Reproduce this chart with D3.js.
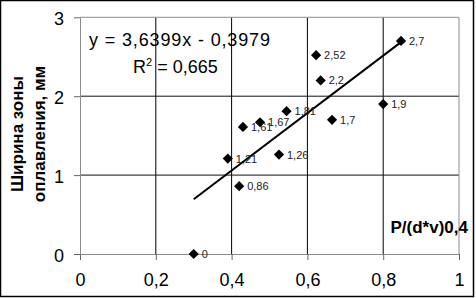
<!DOCTYPE html>
<html>
<head>
<meta charset="utf-8">
<script src="https://cdn.jsdelivr.net/npm/d3@7"></script>
<style>
  body { margin: 0; background: #fff; }
  svg text { font-family: "Liberation Sans", Arial, sans-serif; }
</style>
</head>
<body>
<div id="chart"></div>
<script>
const width = 476,
    height = 298;

// points
const xValues = [0.3, 0.39, 0.42, 0.43, 0.475, 0.525, 0.545, 0.623, 0.635, 0.665, 0.8, 0.847];
const yValues = [0, 1.21, 0.86, 1.61, 1.67, 1.26, 1.81, 2.52, 2.2, 1.7, 1.9, 2.7];
const pointLabels = ["0", "1,21", "0,86", "1,61", "1,67", "1,26", "1,81", "2,52", "2,2", "1,7", "1,9", "2,7"];

// linear trend from the chart
const slope = 3.6399,
    intercept = -0.3979;

const xTicks = [0, 0.2, 0.4, 0.6, 0.8, 1];
const yTicks = [0, 1, 2, 3];
const fmt = (d) => String(d).replace(".", ",");

const svg = d3
    .select("#chart")
    .append("svg")
    .attr("width", width)
    .attr("height", height);

// outer frame
svg.append("rect")
    .attr("x", 0.5)
    .attr("y", 0.5)
    .attr("width", 473)
    .attr("height", 296)
    .attr("fill", "#fff")
    .attr("stroke", "#000")
    .attr("stroke-width", 1.5);

const xScale = d3.scaleLinear().domain([0, 1]).range([80, 459]);
const yScale = d3.scaleLinear().domain([0, 3]).range([254, 17.3]);

// gridlines
svg.append("g")
    .selectAll("line")
    .data(xTicks.slice(1, -1))
    .join("line")
    .attr("x1", (d) => xScale(d))
    .attr("x2", (d) => xScale(d))
    .attr("y1", yScale(0))
    .attr("y2", yScale(3))
    .attr("stroke", "#000");

svg.append("g")
    .selectAll("line")
    .data(yTicks.slice(1, -1))
    .join("line")
    .attr("x1", xScale(0))
    .attr("x2", xScale(1))
    .attr("y1", (d) => yScale(d))
    .attr("y2", (d) => yScale(d))
    .attr("stroke", "#111");

// plot border top/right
svg.append("path")
    .attr("d", `M${xScale(0)},${yScale(3)}H${xScale(1)}V${yScale(0)}`)
    .attr("fill", "none")
    .attr("stroke", "#8c8c8c");

// axes
const xAxis = svg
    .append("g")
    .attr("transform", `translate(0, ${yScale(0)})`)
    .call(
        d3.axisBottom(xScale)
            .tickValues(xTicks)
            .tickSize(6)
            .tickSizeOuter(0)
            .tickPadding(13)
            .tickFormat(fmt)
    );

const yAxis = svg
    .append("g")
    .attr("transform", `translate(${xScale(0)}, 0)`)
    .call(
        d3.axisLeft(yScale)
            .tickValues(yTicks)
            .tickSize(6)
            .tickSizeOuter(0)
            .tickPadding(10)
            .tickFormat(fmt)
    );

[xAxis, yAxis].forEach((g) => {
    g.select(".domain").attr("stroke", "#8c8c8c");
    g.selectAll(".tick line").attr("stroke", "#666");
    g.selectAll(".tick text")
        .attr("fill", "#000")
        .style("font-size", "18px");
});
yAxis.selectAll(".tick text").attr("dy", "0.4em");

// trend line
const xMin = d3.min(xValues),
    xMax = d3.max(xValues);
svg.append("line")
    .attr("x1", xScale(xMin))
    .attr("y1", yScale(slope * xMin + intercept))
    .attr("x2", xScale(xMax))
    .attr("y2", yScale(slope * xMax + intercept))
    .attr("stroke", "#000")
    .attr("stroke-width", 2);

// points
const points = xValues.map((x, i) => ({ x, y: yValues[i], label: pointLabels[i] }));

svg.append("g")
    .selectAll("path")
    .data(points)
    .join("path")
    .attr("d", d3.symbol(d3.symbolSquare, 52))
    .attr("transform", (d) => `translate(${xScale(d.x)},${yScale(d.y)}) rotate(45)`)
    .attr("fill", "#000");

svg.append("g")
    .selectAll("text")
    .data(points)
    .join("text")
    .attr("x", (d) => xScale(d.x) + 8)
    .attr("y", (d) => yScale(d.y) + 4)
    .style("font-size", "11px")
    .attr("fill", "#222")
    .text((d) => d.label);

// equation
svg.append("text")
    .attr("x", 89)
    .attr("y", 46)
    .attr("textLength", 181)
    .style("font-size", "18px")
    .text("y = 3,6399x - 0,3979");

const r2 = svg.append("text")
    .attr("x", 133)
    .attr("y", 73)
    .style("font-size", "18px");
r2.append("tspan").text("R");
r2.append("tspan").attr("dy", -7).style("font-size", "11px").text("2");
r2.append("tspan").attr("dy", 7).text(" = 0,665");

// axis titles
svg.append("text")
    .attr("x", 468)
    .attr("y", 233)
    .attr("text-anchor", "end")
    .style("font-size", "17px")
    .style("font-weight", "bold")
    .text("P/(d*v)0,4");

const yTitle = svg.append("text")
    .attr("transform", "translate(23, 134) rotate(-90)")
    .attr("text-anchor", "middle")
    .style("font-size", "17px")
    .style("font-weight", "bold");
yTitle.append("tspan").attr("x", 0).attr("y", 0).text("Ширина зоны");
yTitle.append("tspan").attr("x", 0).attr("y", 22).text("оплавления, мм");
</script>
</body>
</html>
